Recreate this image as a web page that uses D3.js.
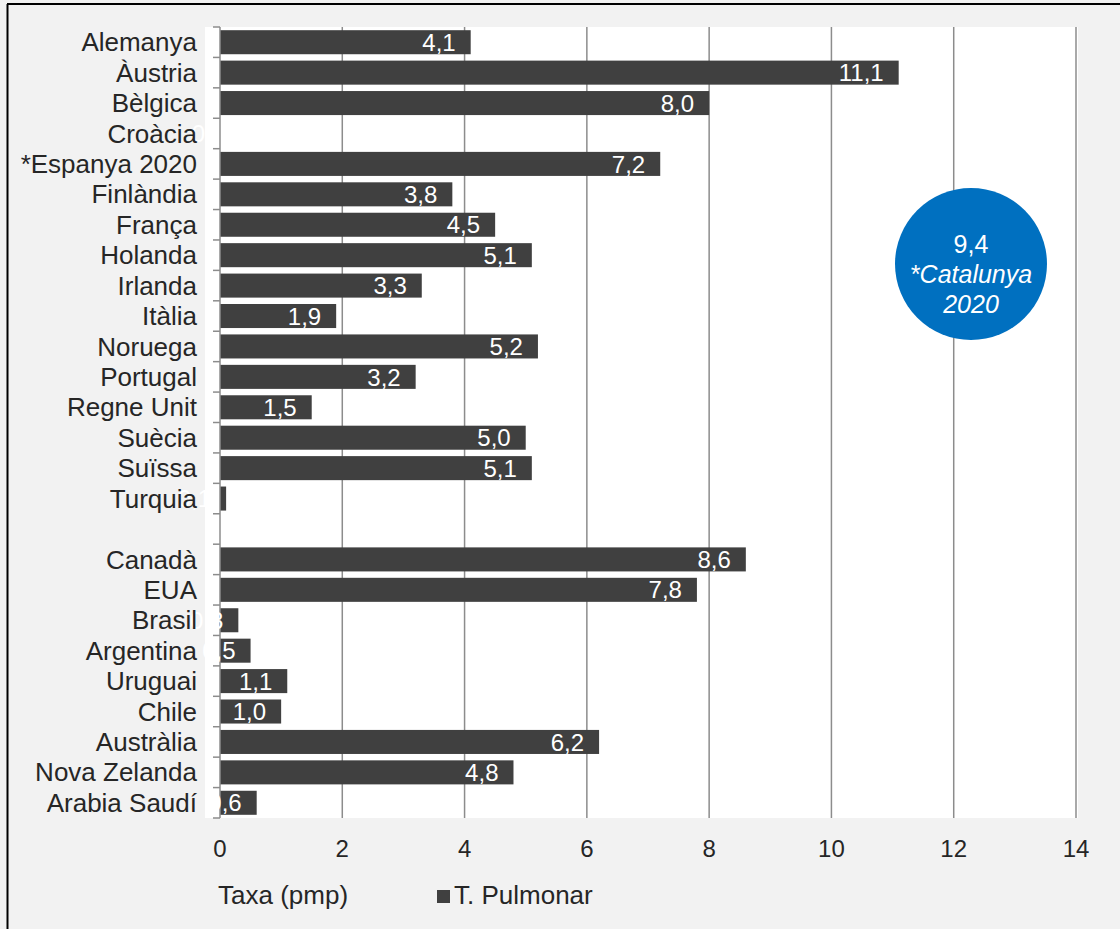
<!DOCTYPE html>
<html><head><meta charset="utf-8">
<script src="https://cdn.jsdelivr.net/npm/d3@7"></script>
<style>body{margin:0;background:#fff;} svg{display:block;font-family:"Liberation Sans",Arial,sans-serif;}</style>
</head><body>
<svg id="c" width="1120" height="929"></svg>
<script>
const categories = ["Alemanya","Àustria","Bèlgica","Croàcia","*Espanya 2020","Finlàndia","França","Holanda","Irlanda","Itàlia","Noruega","Portugal","Regne Unit","Suècia","Suïssa","Turquia"," ","Canadà","EUA","Brasil","Argentina","Uruguai","Chile","Austràlia","Nova Zelanda","Arabia Saudí"];
const values = [4.1,11.1,8.0,0,7.2,3.8,4.5,5.1,3.3,1.9,5.2,3.2,1.5,5.0,5.1,0.1,null,8.6,7.8,0.3,0.5,1.1,1.0,6.2,4.8,0.6];
const xTicks = [0,2,4,6,8,10,12,14];
const seriesName = "T. Pulmonar";
const axisTitle = "Taxa (pmp)";
const highlightValue = 9.4;
const highlightLines = ["*Catalunya","2020"];

const svg = d3.select("#c");
svg.append("rect").attr("x",0).attr("y",0).attr("width",1120).attr("height",929).attr("fill","#f2f2f2");
svg.append("line").attr("x1",7.5).attr("x2",7.5).attr("y1",4).attr("y2",929).attr("stroke","#000").attr("stroke-width",2);
svg.append("line").attr("x1",7).attr("x2",1120).attr("y1",4).attr("y2",4).attr("stroke","#000").attr("stroke-width",2);

const L=220,R=1076,T=27,B=818;
const x = d3.scaleLinear().domain([0,14]).range([L,R]);
const y = d3.scaleBand().domain(categories).range([T,B]).paddingInner(0.21).paddingOuter(0.105);

svg.append("rect").attr("x",L-15).attr("y",T).attr("width",R+2-(L-15)).attr("height",B-T).attr("fill","#fff");

// gridlines
svg.append("g").selectAll("line").data(xTicks.slice(1)).join("line")
  .attr("x1",d=>x(d)).attr("x2",d=>x(d)).attr("y1",T).attr("y2",B)
  .attr("stroke","#8c8c8c").attr("stroke-width",1.5);

// bars
const data = categories.map((c,i)=>({c,v:values[i]})).filter(d=>d.v!==null);
svg.append("g").selectAll("rect").data(data).join("rect")
  .attr("x",x(0)).attr("y",d=>y(d.c)).attr("width",d=>x(d.v)-x(0)).attr("height",y.bandwidth())
  .attr("fill","#404040");

// left axis
const step = y.step();
svg.append("line").attr("x1",L).attr("x2",L).attr("y1",T).attr("y2",B).attr("stroke","#8c8c8c").attr("stroke-width",1.5);
const bounds = d3.range(categories.length+1).map(i=>T+i*step);
svg.append("g").selectAll("line").data(bounds).join("line")
  .attr("x1",L-7).attr("x2",L).attr("y1",d=>d).attr("y2",d=>d).attr("stroke","#8c8c8c").attr("stroke-width",1.5);

// value labels (drawn beneath the category labels, as in the reference)
const fmt = v=>d3.format(".1f")(v).replace(".",",");
svg.append("g").selectAll("text").data(data).join("text")
  .attr("x",d=>x(d.v)-15).attr("y",d=>y(d.c)+y.bandwidth()/2).attr("dy","0.36em")
  .attr("text-anchor","end").attr("font-size",24).attr("fill","#fff")
  .text(d=>d.v===0?"0":fmt(d.v));

svg.append("g").selectAll("text").data(categories).join("text")
  .attr("x",197).attr("y",d=>y(d)+y.bandwidth()/2).attr("dy","0.35em")
  .attr("text-anchor","end").attr("font-size",26).attr("fill","#262626").text(d=>d);

// x tick labels
svg.append("g").selectAll("text").data(xTicks).join("text")
  .attr("x",d=>x(d)).attr("y",857).attr("text-anchor","middle").attr("font-size",24).attr("fill","#262626").text(d=>d);

// legend
svg.append("text").attr("x",218).attr("y",904).attr("font-size",26).attr("fill","#262626").text(axisTitle);
svg.append("rect").attr("x",437).attr("y",890).attr("width",13).attr("height",13).attr("fill","#404040");
svg.append("text").attr("x",454).attr("y",904).attr("font-size",26).attr("fill","#262626").text(seriesName);

// highlight circle
const cx=971, cy=264;
svg.append("circle").attr("cx",cx).attr("cy",cy).attr("r",76).attr("fill","#0070c0");
svg.append("text").attr("x",cx).attr("y",253).attr("text-anchor","middle").attr("font-size",25).attr("fill","#fff").text(fmt(highlightValue));
svg.append("g").selectAll("text").data(highlightLines).join("text")
  .attr("x",cx).attr("y",(d,i)=>283+i*30).attr("text-anchor","middle").attr("font-size",25).attr("font-style","italic").attr("fill","#fff").text(d=>d);
</script>
</body></html>
